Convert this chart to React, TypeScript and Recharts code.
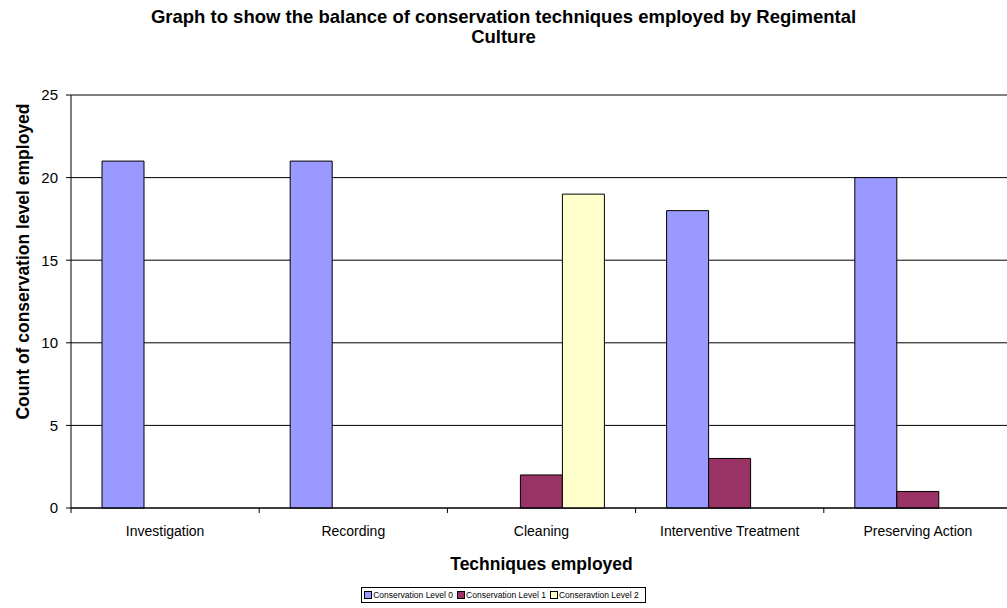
import { BarChart, Bar, XAxis, YAxis, CartesianGrid, Legend, ReferenceLine } from 'recharts';

const techniques = ['Investigation', 'Recording', 'Cleaning', 'Interventive Treatment', 'Preserving Action'];
const level0 = [21, 21, 0, 18, 20];
const level1 = [0, 0, 2, 3, 1];
const level2 = [0, 0, 19, 0, 0];
const yTicks = [0, 5, 10, 15, 20, 25];

const series = [
    { key: 'level0', name: 'Conservation Level 0', color: '#9999FF' },
    { key: 'level1', name: 'Conservation Level 1', color: '#993366' },
    { key: 'level2', name: 'Conseravtion Level 2', color: '#FFFFCC' },
];

const data = techniques.map((t, i) => ({
    technique: t,
    level0: level0[i],
    level1: level1[i],
    level2: level2[i],
}));

const FONT = '"Liberation Sans", Arial, sans-serif';

// Excel puts the category ticks on the boundaries, not the centres
function CategoryTick(props: any) {
    const { x, y, payload } = props;
    const half = payload && payload.offset != null ? payload.offset : 94.1;
    const left = x - half;
    return (
        <g>
            <line x1={left} y1={y - 5} x2={left} y2={y} stroke="#000" strokeWidth={1} />
            <text x={x} y={y + 23} textAnchor="middle" fontSize={14} fontFamily={FONT} fill="#000">
                {payload.value}
            </text>
        </g>
    );
}

function YLabel(props: any) {
    const { viewBox } = props;
    const cy = viewBox.y + viewBox.height / 2 - 40;
    return (
        <text
            x={29}
            y={cy}
            transform={`rotate(-90, 29, ${cy})`}
            textAnchor="middle"
            fontSize={17.5}
            fontWeight="bold"
            fontFamily={FONT}
            fill="#000"
        >
            Count of conservation level employed
        </text>
    );
}

function LegendBox() {
    return (
        <div style={{ display: 'flex', justifyContent: 'center' }}>
            <div
                style={{
                    display: 'flex',
                    alignItems: 'center',
                    border: '1px solid #000',
                    height: 14,
                    padding: '0 2px 0 2px',
                    fontFamily: FONT,
                    fontSize: 8.5,
                    color: '#000',
                }}
            >
                {series.map(s => (
                    <span key={s.key} style={{ display: 'flex', alignItems: 'center', marginRight: 4 }}>
                        <span
                            style={{
                                display: 'inline-block',
                                width: 6,
                                height: 6,
                                background: s.color,
                                border: '1px solid #000',
                                marginRight: 1,
                            }}
                        />
                        {s.name}
                    </span>
                ))}
            </div>
        </div>
    );
}

export default function App() {
    return (
        <div style={{ position: 'absolute', left: 0, top: 0, width: 1007, height: 608, overflow: 'hidden', background: '#fff' }}>
            <div
                style={{
                    position: 'absolute',
                    left: 0,
                    top: 7,
                    width: 1007,
                    textAlign: 'center',
                    fontFamily: FONT,
                    fontWeight: 'bold',
                    fontSize: 18.5,
                    lineHeight: '20px',
                    color: '#000',
                }}
            >
                Graph to show the balance of conservation techniques employed by Regimental
                <br />
                Culture
            </div>
            <BarChart
                width={1012}
                height={608}
                data={data}
                margin={{ top: 95, right: 0, left: 0, bottom: 5 }}
                barGap={0}
                barSize={42}
            >
                <CartesianGrid vertical={false} stroke="#000" strokeWidth={1} />
                <ReferenceLine y={25} stroke="#808080" strokeWidth={2} />
                <XAxis
                    dataKey="technique"
                    height={79}
                    axisLine={{ stroke: '#000' }}
                    tickLine={false}
                    tickSize={5}
                    tickMargin={0}
                    tick={<CategoryTick />}
                    interval={0}
                    label={{
                        value: 'Techniques employed',
                        position: 'insideBottom',
                        offset: 17,
                        fontSize: 17.5,
                        fontWeight: 'bold',
                        fontFamily: FONT,
                        fill: '#000',
                    }}
                />
                <YAxis
                    width={71}
                    domain={[0, 25]}
                    ticks={yTicks}
                    interval={0}
                    axisLine={{ stroke: '#000' }}
                    tickLine={{ stroke: '#000' }}
                    tickSize={5}
                    tickMargin={8}
                    tick={{ fontSize: 15, fontFamily: FONT, fill: '#000' }}
                    label={<YLabel />}
                />
                <Legend verticalAlign="bottom" height={16} wrapperStyle={{ width: 1007 }} content={<LegendBox />} />
                {series.map(s => (
                    <Bar
                        key={s.key}
                        dataKey={s.key}
                        name={s.name}
                        fill={s.color}
                        stroke="#000"
                        strokeWidth={1}
                        isAnimationActive={false}
                    />
                ))}
            </BarChart>
        </div>
    );
}
